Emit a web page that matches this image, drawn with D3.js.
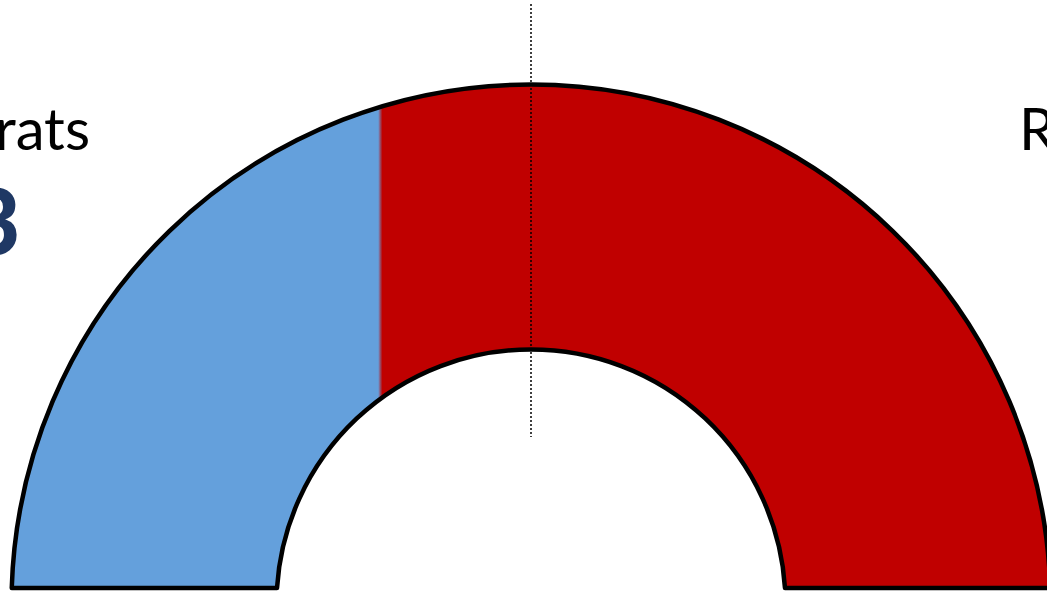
<!DOCTYPE html>
<html>
<head>
<meta charset="utf-8">
<script src="https://cdn.jsdelivr.net/npm/d3@7"></script>
<style>
  html, body { margin: 0; padding: 0; background: #fff; overflow: hidden; }
  svg { display: block; }
  .party-label { font-family: Lato, "Open Sans", sans-serif; font-size: 58px; fill: #000; }
  .party-seats { font-family: Lato, "Open Sans", sans-serif; font-size: 92px; font-weight: 900; fill: #1f3864; }
</style>
</head>
<body>
<svg id="chart" width="1047" height="592"></svg>
<script>
// data
const parties = ['Democrats', 'Republicans'];
const seats = [33, 60];
const partyColors = ['#64a0dc', '#c00000'];

// config
const W = 1047, H = 592;
const CX = 531, CY = 604, BASE = 588;
const R_OUT = 519.5, R_IN = 254.5;
const STROKE = 4.5;

const svg = d3.select('#chart');
const defs = svg.append('defs');

const total = d3.sum(seats);
const xLeft = CX - Math.sqrt(R_OUT * R_OUT - (CY - BASE) * (CY - BASE));
const xRight = CX + Math.sqrt(R_OUT * R_OUT - (CY - BASE) * (CY - BASE));
const x = d3.scaleLinear().domain([0, total]).range([xLeft, xRight]);
const split = (x(seats[0]) - xLeft) / (xRight - xLeft);

// hard-stop gradient (blue left of split, red right of it)
const grad = defs.append('linearGradient')
  .attr('id', 'fillSplit')
  .attr('gradientUnits', 'userSpaceOnUse')
  .attr('x1', xLeft).attr('x2', xRight)
  .attr('y1', 0).attr('y2', 0);
grad.append('stop').attr('offset', 0).attr('stop-color', partyColors[0]);
grad.append('stop').attr('offset', split - 0.002).attr('stop-color', partyColors[0]);
grad.append('stop').attr('offset', split + 0.002).attr('stop-color', partyColors[1]);
grad.append('stop').attr('offset', 1).attr('stop-color', partyColors[1]);

// half ring, cut flat at the base line
const tOut = Math.asin((CY - BASE) / R_OUT);
const tIn = Math.asin((CY - BASE) / R_IN);
const p = d3.path();
p.arc(CX, CY, R_OUT, Math.PI + tOut, 2 * Math.PI - tOut, false);
p.arc(CX, CY, R_IN, 2 * Math.PI - tIn, Math.PI + tIn, true);
p.closePath();

svg.append('path')
  .attr('d', p.toString())
  .attr('fill', 'url(#fillSplit)')
  .attr('stroke', '#000')
  .attr('stroke-width', STROKE)
  .attr('stroke-linejoin', 'round');

// centre marker
svg.append('line')
  .attr('x1', CX).attr('x2', CX)
  .attr('y1', 4).attr('y2', 437)
  .attr('stroke', '#000')
  .attr('stroke-width', 1.5)
  .attr('stroke-dasharray', '2,2');

// labels: party name with seat count centred under it
const labelY = 150, seatY = 255;
const anchors = [{ x: 90, side: 'end' }, { x: 1019, side: 'start' }];

parties.forEach((name, i) => {
  const t = svg.append('text')
    .attr('class', 'party-label')
    .attr('y', labelY)
    .text(name);
  const len = t.node().getComputedTextLength();
  const cx = anchors[i].side === 'end' ? anchors[i].x - len / 2 : anchors[i].x + len / 2;
  t.attr('x', cx).attr('text-anchor', 'middle');

  svg.append('text')
    .attr('class', 'party-seats')
    .attr('x', cx + (i === 0 ? 16 : 0))
    .attr('y', seatY)
    .attr('text-anchor', 'middle')
    .text(seats[i]);
});
</script>
</body>
</html>
